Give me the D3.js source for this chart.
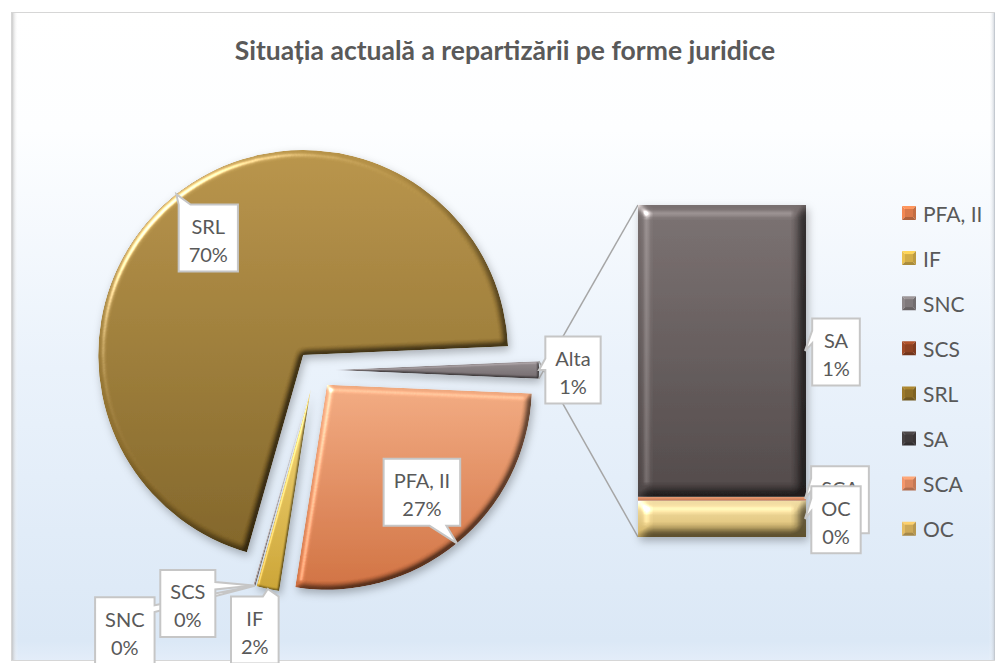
<!DOCTYPE html>
<html><head><meta charset="utf-8">
<script src="https://cdn.jsdelivr.net/npm/d3@7"></script>
<style>
body{margin:0;background:#fff;}
svg{display:block;}
text{font-family:Lato,"Open Sans",sans-serif;}
</style>
</head><body>
<svg id="c" width="998" height="663"></svg>
<script>
// ---------- DATA ----------
const title = "Situația actuală a repartizării pe forme juridice";
const categories = ["PFA, II", "IF", "SNC", "SCS", "SRL", "SA", "SCA", "OC"];
const values = [26.8, 1.8, 0.1, 0.05, 69.9, 1.2, 0.015, 0.15];
const secondaryCategories = ["SA", "SCA", "OC"];   // shown in the bar (pie of pie)
const otherLabel = "Alta";
const colorsTop    = ["#eea87e", "#f4d87c", "#8e8689", "#a8562e", "#b59147", "#766d6d", "#ea9f78", "#f0dca3"];
const colorsBottom = ["#cc6d3e", "#c9a233", "#6a6265", "#7d3718", "#7e6125", "#4d4545", "#c9774f", "#d3b466"];
const legendColors = ["#d9794a", "#d2ad48", "#7f797b", "#8e4222", "#8c6d26", "#3f3a3b", "#db8760", "#cda958"];
const otherTop = "#938b8e", otherBottom = "#6e6669";

// ---------- SETUP ----------
const svg = d3.select("#c");
const defs = svg.append("defs");
const total = d3.sum(values);
const pct = v => Math.round(v / total * 100) + "%";

function vgrad(id, c1, c2) {
  const g = defs.append("linearGradient").attr("id", id).attr("x1", 0).attr("y1", 0).attr("x2", 0).attr("y2", 1);
  g.append("stop").attr("offset", 0).attr("stop-color", c1);
  g.append("stop").attr("offset", 1).attr("stop-color", c2);
  return `url(#${id})`;
}
function bevelFilter(id, sd, scale, spec) {
  const f = defs.append("filter").attr("id", id).attr("x", "-10%").attr("y", "-10%").attr("width", "120%").attr("height", "120%")
    .attr("color-interpolation-filters", "sRGB");
  f.append("feGaussianBlur").attr("in", "SourceAlpha").attr("stdDeviation", sd).attr("result", "b");
  const d = f.append("feDiffuseLighting").attr("in", "b").attr("surfaceScale", scale).attr("diffuseConstant", 1.55)
    .attr("lighting-color", "#fff").attr("result", "d0");
  d.append("feDistantLight").attr("azimuth", 225).attr("elevation", 40);
  const ct = f.append("feComponentTransfer").attr("in", "d0").attr("result", "d");
  ["feFuncR", "feFuncG", "feFuncB"].forEach(fn => ct.append(fn).attr("type", "linear").attr("slope", 0.55).attr("intercept", 0.45));
  const s = f.append("feSpecularLighting").attr("in", "b").attr("surfaceScale", scale).attr("specularConstant", 0.9)
    .attr("specularExponent", 22).attr("lighting-color", "#fff").attr("result", "s");
  s.append("feDistantLight").attr("azimuth", 225).attr("elevation", 28);
  f.append("feComposite").attr("in", "SourceGraphic").attr("in2", "d").attr("operator", "arithmetic")
    .attr("k1", 1).attr("k2", 0).attr("k3", 0).attr("k4", 0).attr("result", "m");
  f.append("feComposite").attr("in", "s").attr("in2", "SourceAlpha").attr("operator", "in").attr("result", "si");
  f.append("feComposite").attr("in", "m").attr("in2", "si").attr("operator", "arithmetic")
    .attr("k1", 0).attr("k2", 1).attr("k3", spec).attr("k4", 0).attr("result", "lit");
  f.append("feComposite").attr("in", "lit").attr("in2", "SourceAlpha").attr("operator", "in");
}
bevelFilter("bevPie", 3.2, 5, 0.8);
bevelFilter("bevThin", 1.0, 1.5, 0.5);
bevelFilter("bevBar", 6, 9, 0.8);
const sh = defs.append("filter").attr("id", "shadow").attr("x", "-10%").attr("y", "-10%").attr("width", "125%").attr("height", "125%");
sh.append("feDropShadow").attr("dx", 2).attr("dy", 4).attr("stdDeviation", 4).attr("flood-color", "#000").attr("flood-opacity", 0.28);

// ---------- BACKGROUND / FRAME ----------
const bg = defs.append("linearGradient").attr("id", "bg").attr("x1", 0).attr("y1", 0).attr("x2", 0).attr("y2", 1);
[[0, "#ffffff"], [0.18, "#fdfeff"], [0.55, "#eaf2fb"], [0.97, "#dbe8f6"], [1, "#e3edf9"]]
  .forEach(([o, c]) => bg.append("stop").attr("offset", o).attr("stop-color", c));
svg.append("rect").attr("x", 11.5).attr("y", 12.5).attr("width", 983).attr("height", 648)
  .attr("fill", "url(#bg)").attr("stroke", "#d6d6d6").attr("stroke-width", 1);
const lsh = defs.append("linearGradient").attr("id", "lsh").attr("x1", 0).attr("x2", 1);
lsh.append("stop").attr("offset", 0).attr("stop-color", "#bdbdbd").attr("stop-opacity", 0.8);
lsh.append("stop").attr("offset", 1).attr("stop-color", "#ffffff").attr("stop-opacity", 0);
svg.append("rect").attr("x", 12).attr("y", 13).attr("width", 6).attr("height", 647).attr("fill", "url(#lsh)");
const rsh = defs.append("linearGradient").attr("id", "rsh").attr("x1", 1).attr("x2", 0);
rsh.append("stop").attr("offset", 0).attr("stop-color", "#b8c0ca").attr("stop-opacity", 0.8);
rsh.append("stop").attr("offset", 1).attr("stop-color", "#ffffff").attr("stop-opacity", 0);
svg.append("rect").attr("x", 989).attr("y", 13).attr("width", 6).attr("height", 647).attr("fill", "url(#rsh)");

// ---------- TITLE ----------
svg.append("text").attr("x", 505).attr("y", 50).attr("text-anchor", "middle").attr("dominant-baseline", "central")
  .attr("font-size", 26.5).attr("font-weight", "bold").attr("fill", "#595959").text(title);

// ---------- PIE ----------
const C = {x: 315, y: 370}, R = 205, explode = 19;
const secIdx = secondaryCategories.map(c => categories.indexOf(c));
const primary = categories.map((c, i) => ({name: c, value: values[i], i}))
  .filter(d => !secondaryCategories.includes(d.name));
const otherValue = d3.sum(secIdx, i => values[i]);
primary.push({name: otherLabel, value: otherValue, i: -1});
const otherAngle = otherValue / total * 2 * Math.PI;
const a0 = Math.PI / 2 + otherAngle / 2;
const pie = d3.pie().sort(null).value(d => d.value).startAngle(a0).endAngle(a0 + 2 * Math.PI);
const arcs = pie(primary);
const arc = d3.arc().innerRadius(0).outerRadius(R);
const dir = a => [Math.sin(a), -Math.cos(a)];
arcs.forEach(a => {
  const m = (a.startAngle + a.endAngle) / 2;
  const [dx, dy] = dir(m);
  a.cx = C.x + explode * dx; a.cy = C.y + explode * dy; a.mid = m;
  a.tip = [a.cx + R * dx, a.cy + R * dy];
});
const gPie = svg.append("g").attr("filter", "url(#shadow)");
gPie.selectAll("path").data(arcs).join("path")
  .attr("transform", a => `translate(${a.cx},${a.cy})`)
  .attr("d", arc)
  .attr("fill", (a, k) => a.data.i >= 0 ? vgrad("pg" + k, colorsTop[a.data.i], colorsBottom[a.data.i]) : vgrad("pgo", otherTop, otherBottom))
  .attr("filter", a => (a.endAngle - a.startAngle) > 0.2 ? "url(#bevPie)" : "url(#bevThin)");

// ---------- BAR (secondary) ----------
const otherArc = arcs[arcs.length - 1];
const bar = {x0: 638, x1: 806, top: 205, bottom: 537};
const y = d3.scaleLinear().domain([0, otherValue]).range([bar.bottom, bar.top]);
const stackOrder = secIdx.slice().reverse(); // bottom to top: OC, SCA, SA
let acc = 0;
const segs = stackOrder.map(i => { const s = {i, y0: acc, y1: acc + values[i]}; acc += values[i]; return s; });
const [e1x, e1y] = dir(otherArc.startAngle), [e2x, e2y] = dir(otherArc.endAngle);
const pTop = [otherArc.cx + R * e2x, otherArc.cy + R * e2y];
const pBot = [otherArc.cx + R * e1x, otherArc.cy + R * e1y];
svg.append("line").attr("x1", pTop[0]).attr("y1", pTop[1]).attr("x2", bar.x0).attr("y2", y(otherValue))
  .attr("stroke", "#a6a6a6").attr("stroke-width", 1.5);
svg.append("line").attr("x1", pBot[0]).attr("y1", pBot[1]).attr("x2", bar.x0).attr("y2", y(0))
  .attr("stroke", "#a6a6a6").attr("stroke-width", 1.5);
const gBar = svg.append("g").attr("filter", "url(#shadow)");
gBar.selectAll("rect").data(segs).join("rect")
  .attr("x", bar.x0).attr("width", bar.x1 - bar.x0)
  .attr("y", d => y(d.y1)).attr("height", d => Math.max(1, y(d.y0) - y(d.y1)))
  .attr("fill", (d, k) => vgrad("bg" + k, colorsTop[d.i], colorsBottom[d.i]))
  .attr("filter", d => (y(d.y0) - y(d.y1)) > 10 ? "url(#bevBar)" : null);

// ---------- LABELS ----------
function callout(bx0, by0, bx1, by1, side, f1, f2, tip) {
  const w = bx1 - bx0, h = by1 - by0;
  let p = `M${bx0},${by0}`;
  if (side === "top") p += `L${bx0 + f1 * w},${by0}L${tip[0]},${tip[1]}L${bx0 + f2 * w},${by0}`;
  p += `L${bx1},${by0}`;
  if (side === "right") p += `L${bx1},${by0 + f1 * h}L${tip[0]},${tip[1]}L${bx1},${by0 + f2 * h}`;
  p += `L${bx1},${by1}`;
  if (side === "bottom") p += `L${bx0 + f2 * w},${by1}L${tip[0]},${tip[1]}L${bx0 + f1 * w},${by1}`;
  p += `L${bx0},${by1}`;
  if (side === "left") p += `L${bx0},${by0 + f2 * h}L${tip[0]},${tip[1]}L${bx0},${by0 + f1 * h}`;
  return p + "Z";
}
const gLab = svg.append("g");
function label(name, val, tip, dx, dy, side, f1, f2) {
  const g = gLab.append("g");
  const t1 = g.append("text").attr("font-size", 20).attr("fill", "#595959").attr("text-anchor", "middle")
    .attr("dominant-baseline", "central").text(name);
  const t2 = g.append("text").attr("font-size", 20).attr("fill", "#595959").attr("text-anchor", "middle")
    .attr("dominant-baseline", "central").text(pct(val));
  const tw = Math.max(t1.node().getComputedTextLength(), t2.node().getComputedTextLength());
  const w = tw + 20, h = 67;
  const cx = tip[0] + dx, cy = tip[1] + dy;
  const bx0 = cx - w / 2, by0 = cy - h / 2;
  g.insert("path", "text").attr("d", callout(bx0, by0, bx0 + w, by0 + h, side, f1, f2, tip))
    .attr("fill", "#fff").attr("stroke", "#c6c6c6").attr("stroke-width", 2);
  t1.attr("x", cx).attr("y", cy - 12);
  t2.attr("x", cx).attr("y", cy + 16);
}
const byName = n => arcs.find(a => a.data.name === n);
const segBy = n => segs.find(s => s.i === categories.indexOf(n));
const barTip = s => [bar.x1 - 1, (y(s.y0) + y(s.y1)) / 2];
label("SRL", byName("SRL").data.value, byName("SRL").tip, 32, 44, "top", 0.0, 0.2);
label("PFA, II", byName("PFA, II").data.value, byName("PFA, II").tip, -35, -51, "bottom", 0.6, 0.82);
label(otherLabel, otherValue, byName(otherLabel).tip, 34, 0, "left", 0.33, 0.5);
label("SNC", byName("SNC").data.value, byName("SNC").tip, -130, 45, "right", 0.12, 0.22);
label("SCS", byName("SCS").data.value, byName("SCS").tip, -66, 18, "right", 0.18, 0.29);
label("IF", byName("IF").data.value, byName("IF").tip, -13, 41, "top", 0.67, 1.0);
label("SA", values[categories.indexOf("SA")], barTip(segBy("SA")), 31, 1, "left", 0.18, 0.37);
label("SCA", values[categories.indexOf("SCA")], barTip(segBy("SCA")), 35, 1, "left", 0.18, 0.37);
label("OC", values[categories.indexOf("OC")], barTip(segBy("OC")), 31, 1, "left", 0.18, 0.37);

// ---------- LEGEND ----------
const legendX = 902, legendTop = 213, legendStep = 45.1, sq = 14;
const gLeg = svg.append("g");
categories.forEach((c, i) => {
  const yc = legendTop + i * legendStep;
  const x0 = legendX, y0 = yc - sq / 2, x1 = x0 + sq, y1 = y0 + sq, mx = x0 + sq / 2, my = yc;
  const base = d3.color(legendColors[i]);
  const tri = [
    [[x0, y0], [x1, y0], [mx, my], base.brighter(0.6)],
    [[x0, y0], [x0, y1], [mx, my], base.brighter(0.3)],
    [[x1, y0], [x1, y1], [mx, my], base.darker(0.3)],
    [[x0, y1], [x1, y1], [mx, my], base.darker(0.6)]
  ];
  tri.forEach(t => gLeg.append("path").attr("d", `M${t[0]}L${t[1]}L${t[2]}Z`).attr("fill", t[3]));
  gLeg.append("rect").attr("x", x0 + 3).attr("y", y0 + 3).attr("width", sq - 6).attr("height", sq - 6).attr("fill", base);
  gLeg.append("text").attr("x", legendX + 21).attr("y", yc).attr("dominant-baseline", "central")
    .attr("font-size", 21).attr("fill", "#595959").text(c);
});
</script>
</body></html>
